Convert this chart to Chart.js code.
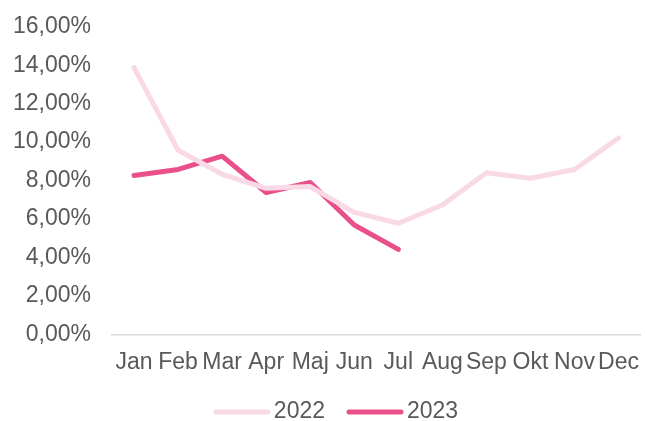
<!DOCTYPE html>
<html>
<head>
<meta charset="utf-8">
<script src="https://cdn.jsdelivr.net/npm/chart.js"></script>
<style>
  html, body { margin: 0; padding: 0; background: #fff; }
  #wrap { width: 645px; height: 421px; }
</style>
</head>
<body>
<div id="wrap"><canvas id="chart"></canvas></div>
<script>
const months = ['Jan', 'Feb', 'Mar', 'Apr', 'Maj', 'Jun', 'Jul', 'Aug', 'Sep', 'Okt', 'Nov', 'Dec'];
const values2022 = [13.88, 9.58, 8.33, 7.60, 7.69, 6.35, 5.78, 6.73, 8.41, 8.12, 8.58, 10.22];
const values2023 = [8.27, 8.58, 9.27, 7.38, 7.90, 5.69, 4.42];
const yTicks = [0, 2, 4, 6, 8, 10, 12, 14, 16];

const textColor = '#595959';
const fontSpec = { family: 'Liberation Sans, Arial', size: 23 };

// legend drawn by hand so the swatches sit like the original (off-centre, tight text gap)
const lineLegend = {
    id: 'lineLegend',
    afterDraw(chart) {
        const c = chart.ctx;
        const swatch = 56, gapText = 4, gapItem = 22;
        const cx = 336, cy = 412;
        c.save();
        c.font = fontSpec.size + 'px ' + fontSpec.family;
        const items = chart.data.datasets.map(ds => ({ ds, w: c.measureText(ds.label).width }));
        let total = items.reduce((s, it) => s + swatch + gapText + it.w, 0) + gapItem * (items.length - 1);
        let x = cx - total / 2;
        items.forEach(({ ds, w }) => {
            c.strokeStyle = ds.borderColor;
            c.lineWidth = ds.borderWidth;
            c.lineCap = 'round';
            c.beginPath();
            c.moveTo(x + 2, cy);
            c.lineTo(x + swatch - 2, cy);
            c.stroke();
            c.fillStyle = textColor;
            c.textBaseline = 'middle';
            c.textAlign = 'left';
            c.fillText(ds.label, x + swatch + gapText, cy);
            x += swatch + gapText + w + gapItem;
        });
        c.restore();
    }
};

const ctx = document.getElementById('chart').getContext('2d');
new Chart(ctx, {
    type: 'line',
    data: {
        labels: months,
        datasets: [{
            label: '2022',
            data: values2022,
            borderColor: '#f9d9e6',
            backgroundColor: '#f9d9e6',
            borderWidth: 5,
        }, {
            label: '2023',
            data: values2023,
            borderColor: '#e9508b',
            backgroundColor: '#e9508b',
            borderWidth: 5,
        }]
    },
    options: {
        responsive: true,
        maintainAspectRatio: false,
        animation: false,
        layout: { padding: { top: -4, right: -7, left: 0, bottom: 39 } },
        elements: {
            line: { tension: 0, borderCapStyle: 'round', borderJoinStyle: 'round' },
            point: { radius: 0, hoverRadius: 0 }
        },
        scales: {
            y: {
                min: 0,
                max: 16,
                afterBuildTicks: (axis) => { axis.ticks = yTicks.map(v => ({ value: v })); },
                ticks: {
                    color: textColor,
                    font: fontSpec,
                    padding: 13,
                    callback: (v) => v.toFixed(2).replace('.', ',') + '%'
                },
                grid: { display: false },
                border: { display: false }
            },
            x: {
                offset: true,
                ticks: {
                    color: textColor,
                    font: fontSpec,
                    padding: 6,
                    maxRotation: 0,
                    autoSkip: false
                },
                grid: { display: false },
                border: { display: true, color: '#d9d9d9', width: 1.5 }
            }
        },
        plugins: {
            legend: { display: false },
            tooltip: { enabled: false }
        }
    },
    plugins: [lineLegend]
});
</script>
</body>
</html>
